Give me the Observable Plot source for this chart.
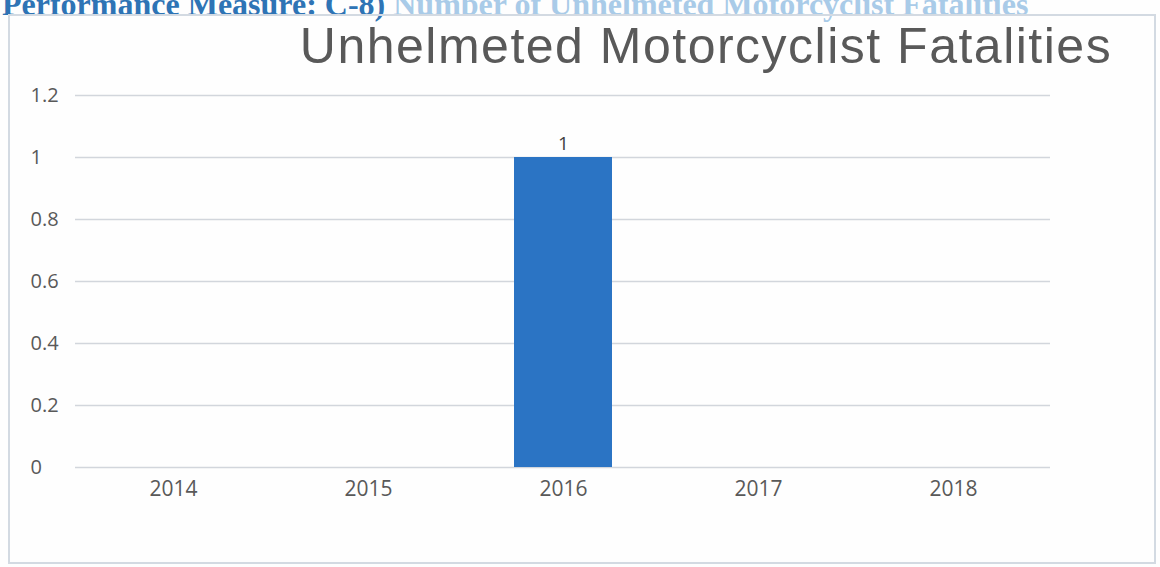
<!DOCTYPE html>
<html>
<head>
<meta charset="utf-8">
<script src="https://cdn.jsdelivr.net/npm/d3@7"></script>
<script src="https://cdn.jsdelivr.net/npm/@observablehq/plot@0.6"></script>
<style>
  html, body { margin: 0; padding: 0; background: #ffffff; }
  #page { position: relative; width: 1160px; height: 567px; overflow: hidden; background: #fefefe; }
  #heading { position: absolute; left: 2px; top: -12px; white-space: nowrap; line-height: 1;
    font-family: "Liberation Serif", "DejaVu Serif", serif; font-weight: bold; font-size: 32px; color: #2e74b5; }
  #heading .faded { color: #a9cbe8; }
  #frame { position: absolute; left: 8px; top: 14px; width: 1144px; height: 546px; border: 2px solid #d3dae2; }
  #title { position: absolute; left: 0; width: 1412px; top: 21px; text-align: center; letter-spacing: 1.5px; line-height: 1;
    font-family: "Liberation Sans", Arial, sans-serif; font-size: 50px; color: #595959; }
  #chart { position: absolute; left: 0; top: 80px; }
</style>
</head>
<body>
<div id="page">
  <div id="heading">Performance Measure: C-8) <span class="faded">Number of Unhelmeted Motorcyclist Fatalities</span></div>
  <div id="frame"></div>
  <div id="title">Unhelmeted Motorcyclist Fatalities</div>
  <div id="chart"></div>
</div>
<script>
const years = ["2014", "2015", "2016", "2017", "2018"];
const fatalities = [0, 0, 1, 0, 0];
const yTicks = [0, 0.2, 0.4, 0.6, 0.8, 1, 1.2];

const data = years.map((year, i) => ({year, value: fatalities[i]}));
const labelled = data.filter(d => d.value > 0);

const chart = Plot.plot({
  width: 1160,
  height: 460,
  marginLeft: 75,
  marginRight: 110,
  marginTop: 15,
  marginBottom: 73,
  style: {background: "transparent", fontFamily: "'Open Sans', 'Liberation Sans', sans-serif", fontSize: "20px", color: "#595959"},
  x: {domain: years, paddingInner: 0.5, paddingOuter: 0.25, label: null},
  y: {domain: [0, 1.2], label: null},
  marks: [
    Plot.gridY(yTicks, {stroke: "#d2d6dc", strokeOpacity: 1, strokeWidth: 1.5}),
    Plot.barY(data, {x: "year", y: "value", fill: "#2b74c4"}),
    Plot.text(labelled, {x: "year", y: "value", text: d => String(d.value), dy: -14, fontSize: 19, fill: "#404040"}),
    Plot.axisY({ticks: yTicks, tickSize: 0, tickPadding: 0, textAnchor: "start", dx: -45, fontSize: 20, tickFormat: d => String(d), fill: "#595959"}),
    Plot.axisX({tickSize: 0, tickPadding: 14, fontSize: 21, fill: "#595959"})
  ]
});
document.getElementById("chart").appendChild(chart);
</script>
</body>
</html>
